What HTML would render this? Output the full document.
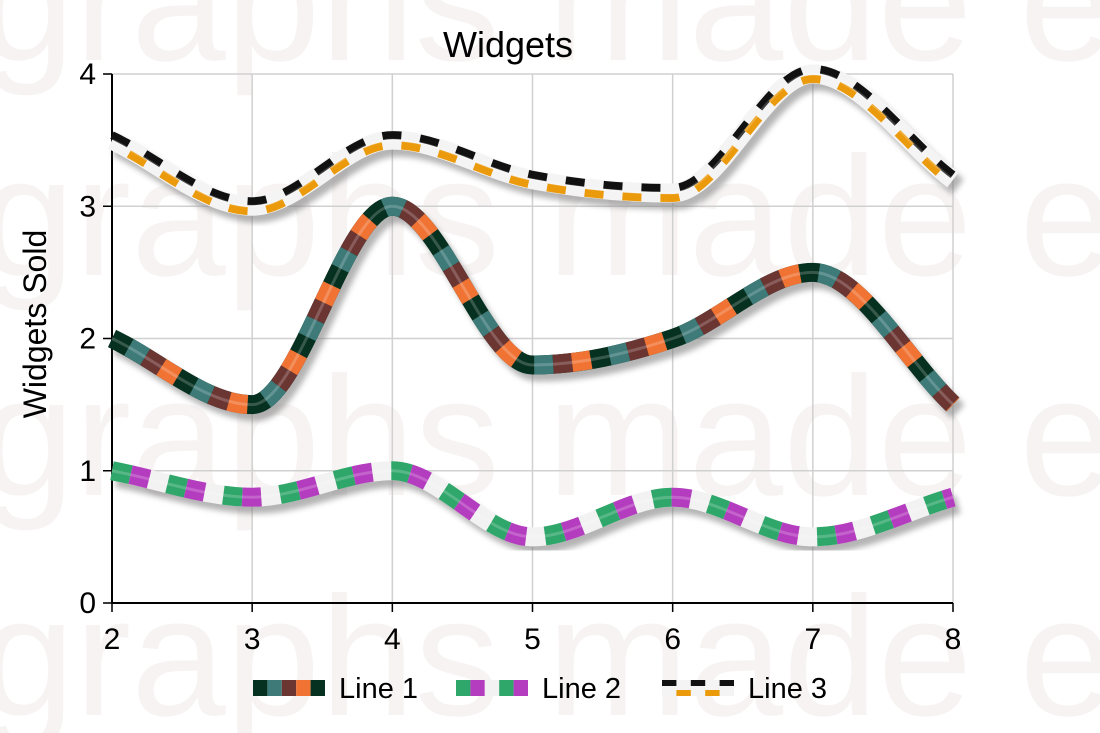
<!DOCTYPE html>
<html><head><meta charset="utf-8"><style>
body{margin:0;background:#fff;}
svg{display:block;font-family:"Liberation Sans",sans-serif;}
</style></head><body>
<svg id="chart" width="1100" height="733" viewBox="0 0 1100 733">
<defs>
<filter id="blur" x="-10%" y="-10%" width="120%" height="120%"><feGaussianBlur stdDeviation="3"/></filter>
</defs>
<g id="wm" fill="#f7f3f3" style="font-size:170px">
<text x="-20" y="60">graphs made easy</text>
<text x="-20" y="275">graphs made easy</text>
<text x="-20" y="495">graphs made easy</text>
<text x="-20" y="715">graphs made easy</text>
</g>
<g id="grid"></g>
<g id="axes"></g>
<g id="series"></g>
<text x="508" y="57" style="font-size:36px" text-anchor="middle">Widgets</text>
<text transform="translate(46,324) rotate(-90)" style="font-size:32px" text-anchor="middle">Widgets Sold</text>
<g id="legend"></g>
</svg>
<script>
const xValues=[2,3,4,5,6,7,8];
const line1=[2,1.5,3,1.8,2,2.5,1.5];
const line2=[1,0.8,1,0.5,0.8,0.5,0.8];
const line3=[3.5,3,3.5,3.2,3.1,4,3.2];
const xTicks=[2,3,4,5,6,7,8];
const yTicks=[0,1,2,3,4];
const seriesNames=["Line 1","Line 2","Line 3"];

const NS="http://www.w3.org/2000/svg";
const X0=112,X1=953,Y0=603,Y1=74;
const sx=v=>X0+(v-2)/(8-2)*(X1-X0);
const sy=v=>Y0-(v/4)*(Y0-Y1);
function mk(tag,attrs,parent){const e=document.createElementNS(NS,tag);for(const k in attrs)e.setAttribute(k,attrs[k]);parent.appendChild(e);return e;}
const grid=document.getElementById('grid'),axes=document.getElementById('axes'),series=document.getElementById('series'),legend=document.getElementById('legend');
xTicks.forEach(t=>{
 const l=mk('line',{x1:sx(t),x2:sx(t),y1:Y1,y2:Y0+8,stroke:'#d0d0d0','stroke-width':1.5},grid);
 
 
 const tk=mk('line',{x1:sx(t),x2:sx(t),y1:Y0,y2:Y0+9,stroke:'#000','stroke-width':1.5},axes);
 
 
 const tx=mk('text',{x:sx(t),y:Y0+46,style:'font-size:30px','text-anchor':'middle'},axes);tx.textContent=t;
 
 
});
yTicks.forEach(t=>{
 const l=mk('line',{x1:X0-8,x2:X1,y1:sy(t),y2:sy(t),stroke:'#d0d0d0','stroke-width':1.5},grid);
 
 
 const tk=mk('line',{x1:X0-9,x2:X0,y1:sy(t),y2:sy(t),stroke:'#000','stroke-width':1.5},axes);
 
 
 const tx=mk('text',{x:X0-16,y:sy(t)+10,style:'font-size:30px','text-anchor':'end'},axes);tx.textContent=t;
 
 
});
const ya=mk('line',{x1:X0,x2:X0,y1:Y1,y2:Y0,stroke:'#000','stroke-width':2},axes);


const xa=mk('line',{x1:X0,x2:X1,y1:Y0,y2:Y0,stroke:'#000','stroke-width':2},axes);



function pathFor(vals){
 const p=vals.map((v,i)=>[sx(xValues[i]),sy(v)]);
 const n=p.length,m=[],dl=[];
 for(let i=0;i<n-1;i++)dl.push((p[i+1][1]-p[i][1])/(p[i+1][0]-p[i][0]));
 for(let i=0;i<n;i++){
  if(i===0)m.push(dl[0]);else if(i===n-1)m.push(dl[n-2]);
  else m.push(dl[i-1]*dl[i]<=0?0:(dl[i-1]+dl[i])/2);
 }
 let d=`M${p[0][0]},${p[0][1]}`;
 for(let i=0;i<n-1;i++){
  const h=(p[i+1][0]-p[i][0])/3;
  d+=` C${p[i][0]+h},${p[i][1]+m[i]*h} ${p[i+1][0]-h},${p[i+1][1]-m[i+1]*h} ${p[i+1][0]},${p[i+1][1]}`;
 }
 return d;
}
const W=19,S=19;
function drawSeries(vals,kind,name){
 const g=mk('g',{},series);
 
 
 const d=pathFor(vals);
 mk('path',{d,fill:'none',stroke:'#777','stroke-width':W,opacity:0.55,filter:'url(#blur)',transform:'translate(5,7)'},g);
 if(kind===1){
  mk('path',{d,fill:'none',stroke:'#06301f','stroke-width':W},g);
  [['#3d7a78',S],['#6b3532',2*S],['#f07334',3*S]].forEach(([c,o])=>mk('path',{d,fill:'none',stroke:c,'stroke-width':W,'stroke-dasharray':`${S} ${3*S}`,'stroke-dashoffset':-o},g));
 }else if(kind===2){
  mk('path',{d,fill:'none',stroke:'#f2f2f2','stroke-width':W},g);
  mk('path',{d,fill:'none',stroke:'#2fa66a','stroke-width':W,'stroke-dasharray':`${S} ${2*S}`},g);
  mk('path',{d,fill:'none',stroke:'#b43cbf','stroke-width':W,'stroke-dasharray':`${S} ${2*S}`,'stroke-dashoffset':-S},g);
 }else{
  mk('path',{d,fill:'none',stroke:'#f4f4f4','stroke-width':W},g);
  mk('path',{d,fill:'none',stroke:'#111','stroke-width':8,'stroke-dasharray':`${S} ${S}`,transform:'translate(0,-5)'},g);
  mk('path',{d,fill:'none',stroke:'#eb9a0c','stroke-width':8,'stroke-dasharray':`${S} ${S}`,'stroke-dashoffset':-S,transform:'translate(0,5)'},g);
 }
 mk('path',{d,fill:'none',stroke:'#fff','stroke-width':3,opacity:0.2},g);
}
drawSeries(line2,2,'line-2');
drawSeries(line1,1,'line-1');
drawSeries(line3,3,'line-3');

const legX=[253,456,662];
seriesNames.forEach((n,i)=>{
 const g=mk('g',{},legend);
 
 
 const y=688,x=legX[i];
 const cols=i===0?['#06301f','#3d7a78','#6b3532','#f07334','#06301f']:i===1?['#2fa66a','#b43cbf','#f2f2f2','#2fa66a','#b43cbf']:null;
 if(cols){cols.forEach((c,k)=>mk('rect',{x:x+k*14.4,y:y-8,width:14.4,height:16,fill:c},g));}
 else{
  mk('rect',{x,y:y-8,width:72,height:16,fill:'#f4f4f4'},g);
  for(let k=0;k<3;k++)mk('rect',{x:x+k*28.8,y:y-8,width:14.4,height:6,fill:'#111'},g);
  for(let k=0;k<2;k++)mk('rect',{x:x+14.4+k*28.8,y:y+2,width:14.4,height:6,fill:'#eb9a0c'},g);
 }
 const t=mk('text',{x:x+86,y:y+10,style:'font-size:29px'},g);t.textContent=n;
});
</script>
</body></html>
